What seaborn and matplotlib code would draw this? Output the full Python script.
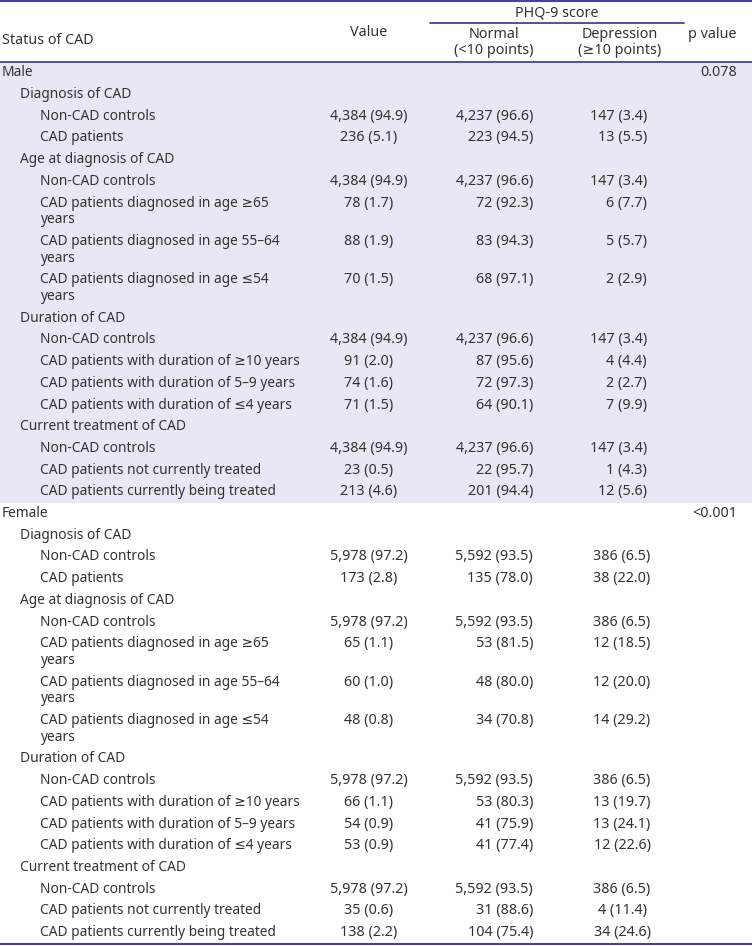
import matplotlib
matplotlib.use("Agg")
import matplotlib.pyplot as plt
import seaborn as sns

# table content
groups = ["Male", "Female"]
p_values = ["0.078", "<0.001"]

row_labels = ["Diagnosis of CAD", "Non-CAD controls", "CAD patients",
              "Age at diagnosis of CAD", "Non-CAD controls",
              "CAD patients diagnosed in age \u226565\nyears",
              "CAD patients diagnosed in age 55\u201364\nyears",
              "CAD patients diagnosed in age \u226454\nyears",
              "Duration of CAD", "Non-CAD controls",
              "CAD patients with duration of \u226510 years",
              "CAD patients with duration of 5\u20139 years",
              "CAD patients with duration of \u22644 years",
              "Current treatment of CAD", "Non-CAD controls",
              "CAD patients not currently treated",
              "CAD patients currently being treated"]
row_levels = [1, 2, 2, 1, 2, 2, 2, 2, 1, 2, 2, 2, 2, 1, 2, 2, 2]

male_value = ["", "4,384 (94.9)", "236 (5.1)", "", "4,384 (94.9)", "78 (1.7)", "88 (1.9)", "70 (1.5)",
              "", "4,384 (94.9)", "91 (2.0)", "74 (1.6)", "71 (1.5)", "", "4,384 (94.9)", "23 (0.5)", "213 (4.6)"]
male_normal = ["", "4,237 (96.6)", "223 (94.5)", "", "4,237 (96.6)", "72 (92.3)", "83 (94.3)", "68 (97.1)",
               "", "4,237 (96.6)", "87 (95.6)", "72 (97.3)", "64 (90.1)", "", "4,237 (96.6)", "22 (95.7)", "201 (94.4)"]
male_depr = ["", "147 (3.4)", "13 (5.5)", "", "147 (3.4)", "6 (7.7)", "5 (5.7)", "2 (2.9)",
             "", "147 (3.4)", "4 (4.4)", "2 (2.7)", "7 (9.9)", "", "147 (3.4)", "1 (4.3)", "12 (5.6)"]

female_value = ["", "5,978 (97.2)", "173 (2.8)", "", "5,978 (97.2)", "65 (1.1)", "60 (1.0)", "48 (0.8)",
                "", "5,978 (97.2)", "66 (1.1)", "54 (0.9)", "53 (0.9)", "", "5,978 (97.2)", "35 (0.6)", "138 (2.2)"]
female_normal = ["", "5,592 (93.5)", "135 (78.0)", "", "5,592 (93.5)", "53 (81.5)", "48 (80.0)", "34 (70.8)",
                 "", "5,592 (93.5)", "53 (80.3)", "41 (75.9)", "41 (77.4)", "", "5,592 (93.5)", "31 (88.6)", "104 (75.4)"]
female_depr = ["", "386 (6.5)", "38 (22.0)", "", "386 (6.5)", "12 (18.5)", "12 (20.0)", "14 (29.2)",
               "", "386 (6.5)", "13 (19.7)", "13 (24.1)", "12 (22.6)", "", "386 (6.5)", "4 (11.4)", "34 (24.6)"]

sns.set_theme(style="white")
plt.rcParams['font.family'] = ['Noto Sans', 'DejaVu Sans']

txt = "#333333"
rule = "#44429a"
shade = "#e9e7f3"
fs = 10.3     # numbers and header
fs_lab = 9.9  # row labels

fig = plt.figure(figsize=(7.52, 9.46), dpi=100)
ax = fig.add_axes([0, 0, 1, 1])
ax.set_xlim(0, 752)
ax.set_ylim(946, 0)
ax.axis('off')

# header
ax.text(557, 13, "PHQ-9 score", ha='center', va='center', fontsize=fs, color=txt)
ax.plot([430, 684], [23, 23], color=rule, lw=1.3)
ax.text(2, 40, "Status of CAD", ha='left', va='center', fontsize=fs, color=txt)
ax.text(369, 33, "Value", ha='center', va='center', fontsize=fs, color=txt)
ax.text(494, 35, "Normal", ha='center', va='center', fontsize=fs, color=txt)
ax.text(494, 51, "(<10 points)", ha='center', va='center', fontsize=fs, color=txt)
ax.text(620, 35, "Depression", ha='center', va='center', fontsize=fs, color=txt)
ax.text(620, 51, "(\u226510 points)", ha='center', va='center', fontsize=fs, color=txt)
ax.text(737, 35, "p value", ha='right', va='center', fontsize=fs, color=txt)

ax.plot([0, 752], [1.5, 1.5], color=rule, lw=1.5)
ax.plot([0, 752], [62, 62], color=rule, lw=1.3)

row_h = 21.7
extra = 16.7
indent = {0: 2, 1: 20, 2: 40}

cols = [(male_value, male_normal, male_depr), (female_value, female_normal, female_depr)]

y = 62
for g, grp in enumerate(groups):
    vals, norms, deprs = cols[g]
    top = y
    n_extra = sum(lbl.count("\n") for lbl in row_labels)
    sec_h = (len(row_labels) + 1) * row_h + n_extra * extra
    if g == 0:
        ax.axhspan(top, top + sec_h, color=shade, zorder=0, lw=0)
    yc = y + row_h / 2
    ax.text(indent[0], yc, grp, ha='left', va='center', fontsize=fs_lab, color=txt)
    ax.text(737, yc, p_values[g], ha='right', va='center', fontsize=fs, color=txt)
    y += row_h
    for i, lbl in enumerate(row_labels):
        yc = y + row_h / 2
        lines = lbl.split("\n")
        for k, line in enumerate(lines):
            ax.text(indent[row_levels[i]], yc + k * extra, line, ha='left', va='center',
                    fontsize=fs_lab, color=txt)
        ax.text(369, yc, vals[i], ha='center', va='center', fontsize=fs, color=txt)
        ax.text(533, yc, norms[i], ha='right', va='center', fontsize=fs, color=txt)
        if g == 0:
            ax.text(647, yc, deprs[i], ha='right', va='center', fontsize=fs, color=txt)
        else:
            ax.text(622, yc, deprs[i], ha='center', va='center', fontsize=fs, color=txt)
        y += row_h + (len(lines) - 1) * extra

ax.plot([0, 752], [y + 1, y + 1], color=rule, lw=1.5)

fig.savefig("out.png", dpi=100)
